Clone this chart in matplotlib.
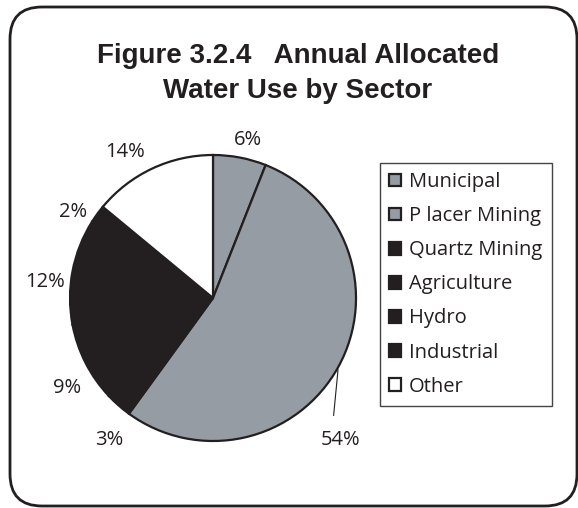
import numpy as np
import matplotlib
matplotlib.use("Agg")
import matplotlib.pyplot as plt
from matplotlib.patches import FancyBboxPatch

# ----- data -----
sectors = ["Municipal", "P lacer Mining", "Quartz Mining", "Agriculture",
           "Hydro", "Industrial", "Other"]
shares = [6, 54, 3, 9, 12, 2, 14]
colors = ["#969ca3", "#969ca3", "#231f20", "#231f20", "#231f20", "#231f20", "#ffffff"]

title_1 = "Figure 3.2.4   Annual Allocated"
title_2 = "Water Use by Sector"

# label placement (angle in deg, distance in radii)
label_pos = {
    "Municipal": (77.5, 1.13),
    "Quartz Mining": (234, 1.23),
    "Agriculture": (211.5, 1.2),
    "Hydro": (174.5, 1.18),
    "Industrial": (148.5, 1.15),
    "Other": (121, 1.19),
}

body_font = "Open Sans"
ink = "#231f20"

fig = plt.figure(figsize=(5.78, 5.08), dpi=100)

# rounded frame around the whole chart
frame = FancyBboxPatch((0.10, 0.02), 5.67, 4.99, boxstyle="round,pad=0,rounding_size=0.32",
                       transform=fig.dpi_scale_trans, fill=False, ec=ink, lw=2.0)
fig.patches.append(frame)

fig.text(298 / 578, 1 - 63 / 508, title_1, ha="center", va="baseline",
         fontsize=20, fontweight="bold", family="Liberation Sans", color=ink)
fig.text(298 / 578, 1 - 98 / 508, title_2, ha="center", va="baseline",
         fontsize=20, fontweight="bold", family="Liberation Sans", color=ink)

# pie axes: centre at (213, 298) px, radius 143 px
cx, cy, half = 213, 298, 180
ax = fig.add_axes([(cx - half) / 578, (508 - cy - half) / 508, 2 * half / 578, 2 * half / 508])
wedges, _ = ax.pie(shares, colors=colors, startangle=90, counterclock=False,
                   wedgeprops=dict(edgecolor=ink, linewidth=1.6))
lim = half / 143
ax.set_xlim(-lim, lim)
ax.set_ylim(-lim, lim)
ax.axis("off")

for name, val in zip(sectors, shares):
    if name not in label_pos:
        continue
    ang, dist = label_pos[name]
    a = np.deg2rad(ang)
    ax.text(dist * np.cos(a), dist * np.sin(a), f"{val}%", ha="center", va="center",
            fontsize=14.5, family=body_font, color=ink)

# Placer Mining label with leader line
i = sectors.index("P lacer Mining")
mid = np.deg2rad((wedges[i].theta1 + wedges[i].theta2) / 2)
end = np.deg2rad(-45)
ax.annotate("", xy=(np.cos(mid), np.sin(mid)), xytext=(1.19 * np.cos(end), 1.19 * np.sin(end)),
            arrowprops=dict(arrowstyle="-", color=ink, lw=0.8))
ax.text(1.26 * np.cos(end), 1.26 * np.sin(end) - 0.1, f"{shares[i]}%", ha="center", va="center",
        fontsize=14.5, family=body_font, color=ink)

leg = fig.legend(wedges, sectors, loc="upper left", bbox_to_anchor=(380 / 578, 1 - 163 / 508),
                 frameon=True, fancybox=False, edgecolor="#444444", framealpha=1,
                 prop={"family": body_font, "size": 14.5}, handlelength=0.6, handleheight=0.6,
                 handletextpad=0.4, labelspacing=0.7, borderpad=0.45, borderaxespad=0)
leg.get_frame().set_linewidth(1.0)
for t in leg.get_texts():
    t.set_color(ink)

fig.savefig("out.png", dpi=100)
